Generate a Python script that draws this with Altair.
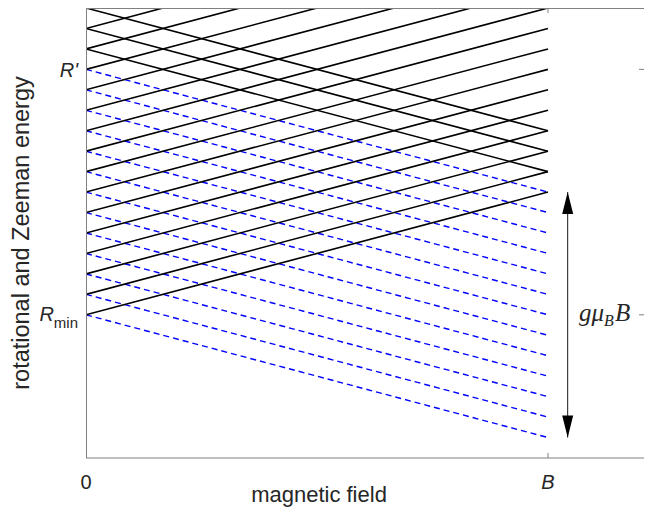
import altair as alt
import pandas as pd

# ---- data -----------------------------------------------------------------
levels = list(range(0, 16))        # rotational levels at B = 0 (0 = R_min)
zeeman_shift = 6                   # g*mu_B*B expressed in level spacings
r_prime_level = 12                 # level labelled R'
field_ends = [0.0, 1.0]            # 0 ... B
y_domain = [-7, 15]
x_domain = [0, 1.2078]
arrow_x = 1.0426

tick_labels_x = ["0", "B"]
tick_labels_y = ["R'", "R", "min"]
axis_titles = ["magnetic field", "rotational and Zeeman energy"]
arrow_label = ["gμ", "B", "B"]

# ---- build line table -----------------------------------------------------
rows = []
for k in levels:
    rows.append(dict(id=f"u{k}", x=field_ends[0], y=k, kind="solid"))
    rows.append(dict(id=f"u{k}", x=field_ends[1], y=k + zeeman_shift, kind="solid"))
    kind = "dash" if k <= r_prime_level else "solid"
    rows.append(dict(id=f"d{k}", x=field_ends[0], y=k, kind=kind))
    rows.append(dict(id=f"d{k}", x=field_ends[1], y=k - zeeman_shift, kind=kind))
lines = pd.DataFrame(rows)

W, H = 558, 450

X = alt.X("x:Q", scale=alt.Scale(domain=x_domain, nice=False, zero=False), axis=None)
Y = alt.Y("y:Q", scale=alt.Scale(domain=y_domain, nice=False, zero=False), axis=None)

base = alt.Chart(lines)
dashed = base.transform_filter(alt.datum.kind == "dash").mark_line(
    color="#0000ff", strokeWidth=1.4, strokeDash=[6, 4], clip=True
).encode(x=X, y=Y, detail="id:N")
solid = base.transform_filter(alt.datum.kind == "solid").mark_line(
    color="black", strokeWidth=1.6, clip=True
).encode(x=X, y=Y, detail="id:N")

# frame
one = pd.DataFrame({"x": [0.0]})
frame_col = "#808080"
bottom = alt.Chart(one).mark_rule(color=frame_col, strokeWidth=1).encode(
    x=alt.value(0), x2=alt.value(W), y=alt.value(H))
top = alt.Chart(one).mark_rule(color=frame_col, strokeWidth=1).encode(
    x=alt.value(0), x2=alt.value(W), y=alt.value(0.5))
left = alt.Chart(one).mark_rule(color=frame_col, strokeWidth=1).encode(
    x=alt.value(0.5), y=alt.value(0), y2=alt.value(H))

tickB = pd.DataFrame({"x": [field_ends[1]]})
tick_b_bot = alt.Chart(tickB).mark_rule(color=frame_col).encode(
    x=X, y=alt.value(H), y2=alt.value(H - 5))
tick_b_top = alt.Chart(tickB).mark_rule(color=frame_col).encode(
    x=X, y=alt.value(0), y2=alt.value(5))
tickR = pd.DataFrame({"y": [0, r_prime_level]})
tick_r_right = alt.Chart(tickR).mark_rule(color=frame_col).encode(
    y=Y, x=alt.value(W - 5), x2=alt.value(W))

# arrow
arrow_df = pd.DataFrame({"x": [arrow_x], "y": [zeeman_shift], "y2": [-zeeman_shift]})
arrow_line = alt.Chart(arrow_df).mark_rule(color="#1a1a1a", strokeWidth=1).encode(
    x=X, y=Y, y2="y2:Q")
head_up = alt.Chart(pd.DataFrame({"x": [arrow_x], "y": [zeeman_shift]})).mark_point(
    shape="M0,0L0.5,2L-0.5,2Z", size=484, filled=True, color="black", opacity=1
).encode(x=X, y=Y)
head_dn = alt.Chart(pd.DataFrame({"x": [arrow_x], "y": [-zeeman_shift]})).mark_point(
    shape="M0,0L0.5,-2L-0.5,-2Z", size=484, filled=True, color="black", opacity=1
).encode(x=X, y=Y)

txt_col = "#262626"
sans = "Liberation Sans"
serif = "Liberation Serif"


def label(text, x, y, size, align="left", italic=False, font=sans, angle=0, baseline="alphabetic"):
    kw = dict(align=align, fontSize=size, font=font, color=txt_col, baseline=baseline)
    if italic:
        kw["fontStyle"] = "italic"
    if angle:
        kw["angle"] = angle
    return alt.Chart(pd.DataFrame({"t": [text]})).mark_text(**kw).encode(
        x=alt.value(x), y=alt.value(y), text="t:N")


texts = [
    label(tick_labels_x[0], 0, 481, 20, align="center"),
    label(tick_labels_x[1], 462, 481, 20, align="center", italic=True),
    label(tick_labels_y[0], -8, 69, 20, align="right", italic=True),
    label(tick_labels_y[1], -32, 313, 20, align="right", italic=True),
    label(tick_labels_y[2], -8, 320, 15, align="right"),
    label(axis_titles[0], 233, 494, 22, align="center"),
    label(axis_titles[1], -64, 225, 23.5, align="center", angle=270, baseline="middle"),
    label(arrow_label[0], 493, 313, 25, italic=True, font=serif),
    label(arrow_label[1], 518, 318, 16, italic=True, font=serif),
    label(arrow_label[2], 529, 313, 25, italic=True, font=serif),
]

chart = alt.layer(
    dashed, solid, bottom, top, left, tick_b_bot, tick_b_top, tick_r_right,
    arrow_line, head_up, head_dn, *texts
).properties(
    width=W, height=H,
    padding={"left": 78, "top": 0, "right": 0, "bottom": 51},
    autosize=alt.AutoSizeParams(type="none"),
).configure_view(stroke=None)

chart.save("out.html", embed_options={"renderer": "svg", "actions": False})
